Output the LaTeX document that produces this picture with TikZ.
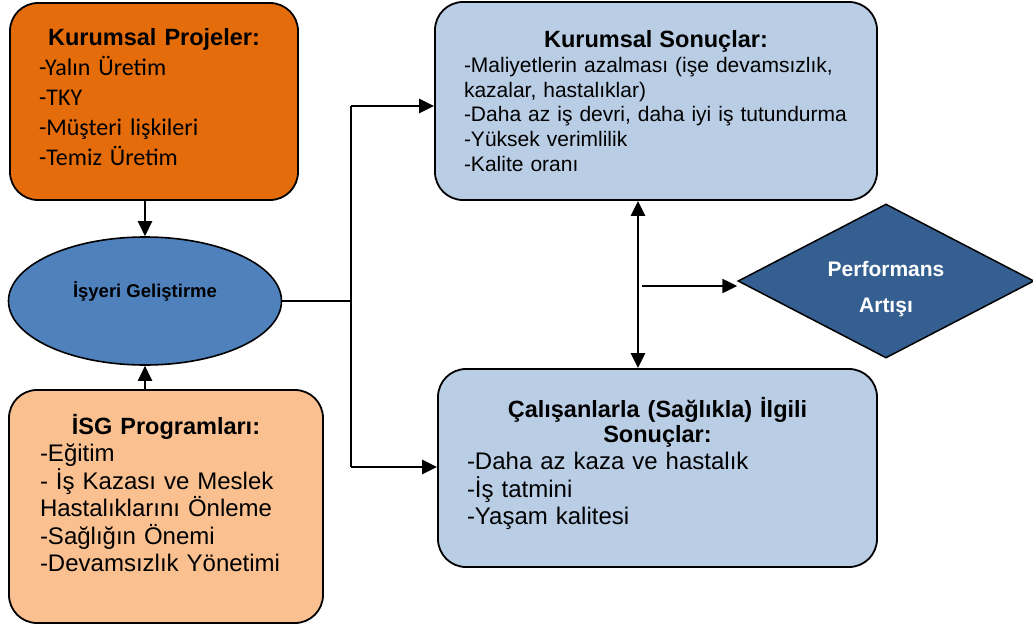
\documentclass[tikz,border=0pt]{standalone}
\usepackage{fontspec}
\setmainfont{Liberation Sans}
\newfontfamily\calibrifont{Carlito}
\usetikzlibrary{
  arrows.meta,
  shapes.geometric,
  positioning,
  calc
}
\definecolor{projorange}{RGB}{228,108,10}
\definecolor{isgpeach}{RGB}{250,192,144}
\definecolor{devblue}{RGB}{79,129,189}
\definecolor{resblue}{RGB}{185,205,229}
\definecolor{perfblue}{RGB}{54,95,145}
\newcommand{\boxtitle}[1]{{\centering\rmfamily\bfseries\fontsize{23.5}{25}\selectfont #1\par}}
\tikzset{
  roundblock/.style={
    rectangle, rounded corners=28pt, draw, line width=1.8pt,
    align=left, inner sep=0pt
  },
  ovalblock/.style={
    ellipse, draw, line width=1.6pt, fill=devblue,
    minimum width=273pt, minimum height=128pt,
    align=center, inner sep=0pt, font=\bfseries\fontsize{18.5}{22}\selectfont
  },
  decision/.style={
    diamond, draw, line width=1.5pt, fill=perfblue, text=white,
    aspect=1.92, minimum width=296pt, minimum height=154pt,
    align=center, inner sep=0pt, font=\bfseries\fontsize{21}{36}\selectfont
  },
  arrow/.style={-{Triangle[length=15pt,width=14pt]}, line width=2.5pt},
  biarrow/.style={{Triangle[length=15pt,width=14pt]}-{Triangle[length=15pt,width=14pt]}, line width=2.5pt},
  plainline/.style={line width=2pt}
}
\begin{document}
\begin{tikzpicture}[x=1pt, y=-1pt]
\useasboundingbox (0,0) rectangle (1033,624);

% Left column
\node[roundblock, fill=projorange, minimum width=288pt, minimum height=197pt,
  text width=230pt, font=\calibrifont\fontsize{24}{30}\selectfont] (proj) at (154,101.5)
  {\boxtitle{Kurumsal Projeler:}-Yalın Üretim\\-TKY\\-Müşteri lişkileri\\-Temiz Üretim\\[-21pt]\mbox{}};

\node[ovalblock] (dev) at (145,301) {İşyeri Geliştirme\\\mbox{}};

\node[roundblock, fill=isgpeach, minimum width=314pt, minimum height=233pt,
  text width=252pt, font=\fontsize{24}{27.5}\selectfont] (isg) at (166,506.5)
  {\boxtitle{İSG Programları:}-Eğitim\\- İş Kazası ve Meslek\\Hastalıklarını Önleme\\-Sağlığın Önemi\\-Devamsızlık Yönetimi\\\mbox{}};

\draw[arrow] (dev.north |- proj.south) -- (dev.north);
\draw[arrow] (dev.south |- isg.north) -- (dev.south);

% Right column
\node[roundblock, fill=resblue, minimum width=442pt, minimum height=198pt,
  text width=384pt, font=\fontsize{21}{24.7}\selectfont] (corpres) at (656,101)
  {\boxtitle{Kurumsal Sonuçlar:}-Maliyetlerin azalması (işe devamsızlık,\\kazalar, hastalıklar)\\-Daha az iş devri, daha iyi iş tutundurma\\-Yüksek verimlilik\\-Kalite oranı};

\node[roundblock, fill=resblue, minimum width=439pt, minimum height=198pt,
  text width=381pt, font=\fontsize{24}{27.5}\selectfont] (workres) at (657.5,468)
  {\boxtitle{Çalışanlarla (Sağlıkla) İlgili\\Sonuçlar:}-Daha az kaza ve hastalık\\-İş tatmini\\-Yaşam kalitesi\\[-13pt]\mbox{}};

\node[decision] (perf) at (886,281) {\mbox{}\\[-4pt]Performans\\Artışı};

% Branch to results
\coordinate (btop) at (351,106);
\coordinate (bbot) at (351,467);
\draw[plainline] (dev.east) -- (dev.east -| btop);
\draw[plainline] (btop) -- (bbot);
\draw[arrow] (btop) -- (btop -| corpres.west);
\draw[arrow] (bbot) -- (bbot -| workres.west);

% Results link and performance
\coordinate (link) at (638,286);
\draw[biarrow] (link |- corpres.south) -- (link |- workres.north);
\draw[arrow] ([xshift=4pt]link) -- (link -| perf.west);

\end{tikzpicture}
\end{document}
